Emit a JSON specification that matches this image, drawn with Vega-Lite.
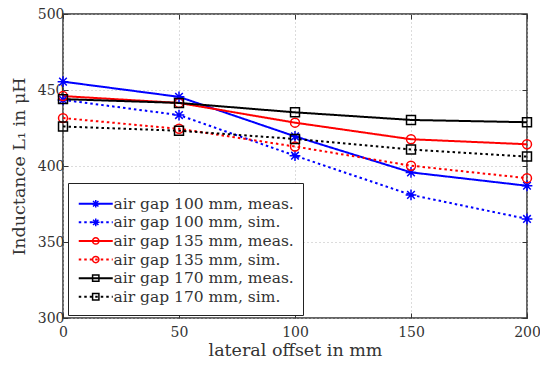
{
  "$schema": "https://vega.github.io/schema/vega-lite/v6.json",
  "autosize": {"type": "none"},
  "width": 464,
  "height": 304,
  "padding": {"left": 63, "top": 14, "right": 13, "bottom": 47},
  "background": "white",
  "config": {
    "view": {"stroke": "#333333", "strokeWidth": 1.5},
    "font": "DejaVu Serif",
    "axis": {
      "domain": false,
      "grid": true,
      "gridColor": "#b8b8b8",
      "gridDash": [1, 3],
      "gridWidth": 1,
      "tickColor": "#333333",
      "tickSize": -5,
      "tickWidth": 1,
      "labelFont": "DejaVu Serif",
      "labelFontSize": 14,
      "labelColor": "#333333",
      "labelFlush": false,
      "labelOverlap": false,
      "titleFont": "DejaVu Serif",
      "titleFontSize": 17.5,
      "titleFontWeight": "normal",
      "titleColor": "#333333"
    },
    "legend": {
      "orient": "none",
      "legendX": 5,
      "legendY": 169,
      "padding": 9,
      "symbolOffset": 11,
      "labelOffset": 10,
      "labelLimit": 400,
      "labelFont": "DejaVu Serif",
      "labelFontSize": 15.5,
      "labelColor": "#333333",
      "rowPadding": 1.6
    }
  },
  "resolve": {"axis": {"x": "independent", "y": "independent"}},
  "data": {
    "values": [
      {"series": "air gap 100 mm, meas.", "offset": 0, "L": 455.5},
      {"series": "air gap 100 mm, meas.", "offset": 50, "L": 445.5},
      {"series": "air gap 100 mm, meas.", "offset": 100, "L": 419.5},
      {"series": "air gap 100 mm, meas.", "offset": 150, "L": 395.8},
      {"series": "air gap 100 mm, meas.", "offset": 200, "L": 387},
      {"series": "air gap 100 mm, sim.", "offset": 0, "L": 443.5},
      {"series": "air gap 100 mm, sim.", "offset": 50, "L": 433.5},
      {"series": "air gap 100 mm, sim.", "offset": 100, "L": 406.8},
      {"series": "air gap 100 mm, sim.", "offset": 150, "L": 381},
      {"series": "air gap 100 mm, sim.", "offset": 200, "L": 365.2},
      {"series": "air gap 135 mm, meas.", "offset": 0, "L": 446},
      {"series": "air gap 135 mm, meas.", "offset": 50, "L": 441.5},
      {"series": "air gap 135 mm, meas.", "offset": 100, "L": 428.5},
      {"series": "air gap 135 mm, meas.", "offset": 150, "L": 417.6},
      {"series": "air gap 135 mm, meas.", "offset": 200, "L": 414.3},
      {"series": "air gap 135 mm, sim.", "offset": 0, "L": 431.5},
      {"series": "air gap 135 mm, sim.", "offset": 50, "L": 424.5},
      {"series": "air gap 135 mm, sim.", "offset": 100, "L": 412.8},
      {"series": "air gap 135 mm, sim.", "offset": 150, "L": 400.2},
      {"series": "air gap 135 mm, sim.", "offset": 200, "L": 392},
      {"series": "air gap 170 mm, meas.", "offset": 0, "L": 444},
      {"series": "air gap 170 mm, meas.", "offset": 50, "L": 441.5},
      {"series": "air gap 170 mm, meas.", "offset": 100, "L": 435.3},
      {"series": "air gap 170 mm, meas.", "offset": 150, "L": 430.3},
      {"series": "air gap 170 mm, meas.", "offset": 200, "L": 428.8},
      {"series": "air gap 170 mm, sim.", "offset": 0, "L": 426},
      {"series": "air gap 170 mm, sim.", "offset": 50, "L": 423.2},
      {"series": "air gap 170 mm, sim.", "offset": 100, "L": 417.8},
      {"series": "air gap 170 mm, sim.", "offset": 150, "L": 410.8},
      {"series": "air gap 170 mm, sim.", "offset": 200, "L": 406.2}
    ]
  },
  "transform": [{"calculate": "datum.series", "as": "marker"}],
  "layer": [
    {
      "mark": {"type": "line", "strokeWidth": 2},
      "encoding": {
        "x": {
          "field": "offset",
          "type": "quantitative",
          "scale": {"domain": [0, 200], "nice": false},
          "axis": {"values": [0, 50, 100, 150, 200], "title": "lateral offset in mm", "labelPadding": 12, "titlePadding": 2}
        },
        "y": {
          "field": "L",
          "type": "quantitative",
          "scale": {"domain": [300, 500], "nice": false, "zero": false},
          "axis": {"values": [300, 350, 400, 450, 500], "title": "Inductance L₁ in μH", "labelPadding": 4, "titlePadding": 9}
        },
        "color": {
          "field": "series",
          "type": "nominal",
          "scale": {"range": ["#0000ff", "#0000ff", "#ff0000", "#ff0000", "#000000", "#000000"]},
          "legend": {
            "title": " ",
            "titleFontSize": 4,
            "titlePadding": 0,
            "fillColor": "white",
            "strokeColor": "#222222",
            "symbolType": "M-4.25,0H4.25",
            "symbolSize": 64,
            "symbolStrokeWidth": 2,
            "symbolFillColor": "transparent"
          }
        },
        "strokeDash": {
          "field": "series",
          "type": "nominal",
          "scale": {"range": [[1, 0], [2.5, 3], [1, 0], [2.5, 3], [1, 0], [2.5, 3]]},
          "legend": {"title": " ", "titleFontSize": 4, "titlePadding": 0}
        }
      }
    },
    {
      "mark": {"type": "point", "filled": false, "size": 80, "strokeWidth": 1.5, "opacity": 1},
      "encoding": {
        "x": {"field": "offset", "type": "quantitative", "axis": null},
        "y": {"field": "L", "type": "quantitative", "axis": null},
        "stroke": {
          "field": "marker",
          "type": "nominal",
          "scale": {"range": ["#0000ff", "#0000ff", "#ff0000", "#ff0000", "#000000", "#000000"]},
          "legend": {
            "title": " ",
            "titleFontSize": 4,
            "titlePadding": 0,
            "symbolSize": 40,
            "symbolStrokeWidth": 1.5,
            "symbolFillColor": "transparent",
            "symbolOpacity": 1,
            "labelOpacity": 0,
            "zindex": 2
          }
        },
        "shape": {
          "field": "marker",
          "type": "nominal",
          "scale": {
            "range": [
              "M-1.2,0H1.2M0,-1.2V1.2M-0.85,-0.85L0.85,0.85M-0.85,0.85L0.85,-0.85",
              "M-1.2,0H1.2M0,-1.2V1.2M-0.85,-0.85L0.85,0.85M-0.85,0.85L0.85,-0.85",
              "circle",
              "circle",
              "square",
              "square"
            ]
          },
          "legend": {
            "title": " ",
            "titleFontSize": 4,
            "titlePadding": 0,
            "symbolSize": 40,
            "symbolStrokeWidth": 1.5,
            "symbolFillColor": "transparent",
            "symbolOpacity": 1,
            "labelOpacity": 0,
            "zindex": 2
          }
        }
      }
    },
    {
      "mark": {"type": "point", "opacity": 0},
      "encoding": {
        "x": {
          "field": "offset",
          "type": "quantitative",
          "axis": {"orient": "top", "values": [0, 50, 100, 150, 200], "labels": false, "grid": false, "title": null}
        },
        "y": {
          "field": "L",
          "type": "quantitative",
          "axis": {"orient": "right", "values": [300, 350, 400, 450, 500], "labels": false, "grid": false, "title": null}
        }
      }
    }
  ]
}
